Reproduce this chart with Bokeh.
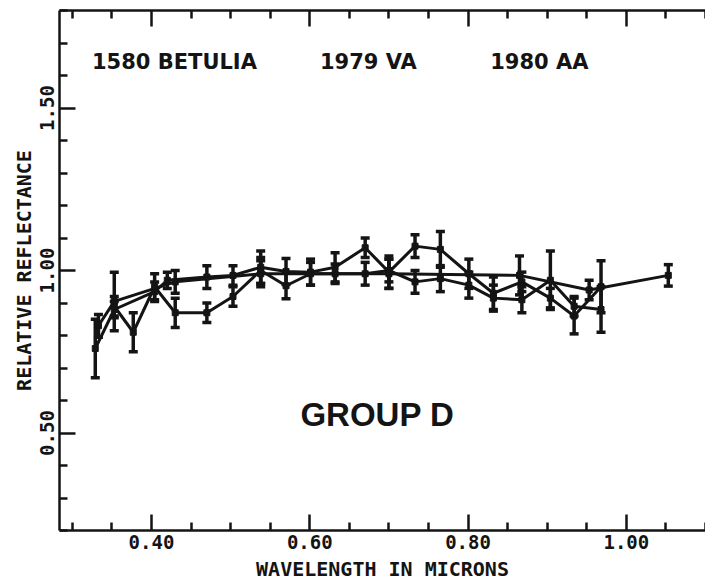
from bokeh.plotting import figure
from bokeh.models import (ColumnDataSource, Whisker, TeeHead, FixedTicker,
                          LinearAxis, Range1d, Label, CustomJSTickFormatter)
from bokeh.embed import file_html
from bokeh.resources import INLINE

# ---- reflectance spectra (normalised), wavelengths in microns ----
betulia_wl = [0.333, 0.353, 0.430, 0.538, 0.700, 0.865, 0.953, 1.053]
betulia_refl = [0.83, 0.905, 0.965, 0.99, 0.99, 0.985, 0.94, 0.985]
betulia_err = [0.035, 0.09, 0.035, 0.04, 0.045, 0.06, 0.03, 0.033]

va_wl = [0.329, 0.353, 0.404, 0.420, 0.470, 0.503, 0.538, 0.570, 0.601, 0.632,
         0.670, 0.700, 0.733, 0.765, 0.801, 0.832, 0.868, 0.904, 0.934, 0.968]
va_refl = [0.76, 0.88, 0.935, 0.97, 0.98, 0.985, 1.01, 0.997, 0.995, 1.01,
           1.07, 0.995, 1.075, 1.065, 0.99, 0.93, 0.965, 0.915, 0.86, 0.95]
va_err = [0.09, 0.025, 0.03, 0.025, 0.035, 0.03, 0.05, 0.04, 0.04, 0.045,
          0.03, 0.05, 0.035, 0.055, 0.045, 0.05, 0.03, 0.03, 0.055, 0.08]

aa_wl = [0.353, 0.377, 0.404, 0.430, 0.470, 0.503, 0.538, 0.570, 0.601, 0.632,
         0.670, 0.700, 0.733, 0.765, 0.801, 0.832, 0.868, 0.904, 0.934, 0.968]
aa_refl = [0.89, 0.81, 0.95, 0.87, 0.87, 0.92, 1.0, 0.953, 0.99, 0.99,
           0.99, 1.0, 0.965, 0.975, 0.955, 0.915, 0.91, 0.97, 0.89, 0.88]
aa_err = [0.03, 0.06, 0.04, 0.045, 0.03, 0.03, 0.04, 0.04, 0.035, 0.03,
          0.035, 0.035, 0.035, 0.04, 0.04, 0.04, 0.04, 0.09, 0.03, 0.07]

object_names = ["1580 BETULIA", "1979 VA", "1980 AA"]
group_label = "GROUP D"

x_major = [0.2, 0.4, 0.6, 0.8, 1.0]
x_minor = [0.25, 0.30, 0.35, 0.45, 0.50, 0.55, 0.65, 0.70, 0.75,
           0.85, 0.90, 0.95, 1.05, 1.10]
y_major = [0.0, 0.5, 1.0, 1.5]
y_minor = [0.2, 0.3, 0.4, 0.6, 0.7, 0.8, 0.9, 1.1, 1.2, 1.3, 1.4, 1.6, 1.7, 1.8]

INK = "#141414"
MONO = "DejaVu Sans Mono"

p = figure(width=705, height=583,
           x_range=Range1d(0.2838, 1.1), y_range=Range1d(0.2, 1.8),
           output_backend="svg", toolbar_location=None,
           min_border_left=59, min_border_right=0,
           min_border_top=10, min_border_bottom=51,
           background_fill_color="white", border_fill_color="white",
           outline_line_color=None)
p.grid.visible = False

fmt = CustomJSTickFormatter(code="return tick.toFixed(2);")

xa = p.xaxis[0]
xa.ticker = FixedTicker(ticks=x_major, minor_ticks=x_minor)
xa.formatter = fmt
xa.axis_label = "WAVELENGTH IN MICRONS"

ya = p.yaxis[0]
ya.ticker = FixedTicker(ticks=y_major, minor_ticks=y_minor)
ya.formatter = fmt
ya.axis_label = "RELATIVE REFLECTANCE"
ya.major_label_orientation = "vertical"

# top edge: ticks only, no numbers
top = LinearAxis(ticker=FixedTicker(ticks=x_major, minor_ticks=x_minor),
                 major_label_text_font_size="1px", major_label_text_alpha=0,
                 major_label_standoff=0)
p.add_layout(top, "above")

for ax in (xa, ya, top):
    ax.axis_line_color = INK
    ax.axis_line_width = 2.5
    ax.major_tick_line_color = INK
    ax.minor_tick_line_color = INK
    ax.major_tick_line_width = 2.5
    ax.minor_tick_line_width = 2.5
    ax.major_tick_in = 16
    ax.major_tick_out = 0
    ax.minor_tick_in = 8
    ax.minor_tick_out = 0

for ax in (xa, ya):
    ax.major_label_text_font = MONO
    ax.major_label_text_font_size = "19px"
    ax.major_label_text_font_style = "bold"
    ax.major_label_text_color = INK
    ax.axis_label_text_font = MONO
    ax.axis_label_text_font_size = "20px"
    ax.axis_label_text_font_style = "bold"
    ax.axis_label_text_color = INK

xa.major_label_standoff = 4
xa.axis_label_standoff = 5
ya.major_label_standoff = 6
ya.axis_label_standoff = 1

# spectra: connecting lines, points and error bars
for wl, refl, err in ((betulia_wl, betulia_refl, betulia_err),
                      (va_wl, va_refl, va_err),
                      (aa_wl, aa_refl, aa_err)):
    src = ColumnDataSource(dict(
        x=wl, y=refl,
        lo=[r - e for r, e in zip(refl, err)],
        hi=[r + e for r, e in zip(refl, err)]))
    p.line("x", "y", source=src, line_color=INK, line_width=3)
    p.scatter("x", "y", source=src, marker="square", size=6,
              fill_color=INK, line_color=INK)
    p.add_layout(Whisker(source=src, base="x", lower="lo", upper="hi",
                         line_color=INK, line_width=3.5,
                         lower_head=TeeHead(size=9, line_width=3.5, line_color=INK),
                         upper_head=TeeHead(size=9, line_width=3.5, line_color=INK)))

# object names across the top and the group tag
for name, xc in zip(object_names, [0.429, 0.674, 0.890]):
    p.add_layout(Label(x=xc, y=1.641, text=name, text_align="center",
                       text_baseline="alphabetic", text_font="DejaVu Sans",
                       text_font_style="bold", text_font_size="21px",
                       text_color=INK))

p.add_layout(Label(x=0.6855, y=0.556, text=group_label, text_align="center",
                   text_baseline="alphabetic", text_font="Liberation Sans",
                   text_font_style="bold", text_font_size="33px",
                   text_color=INK))

open("out.html", "w").write(file_html(p, INLINE))
